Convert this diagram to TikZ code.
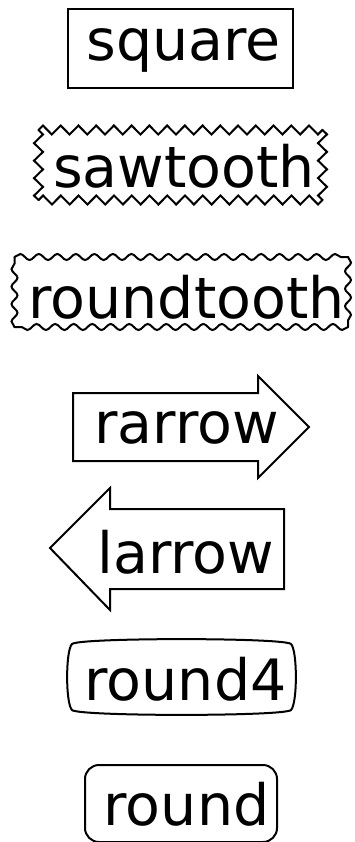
\documentclass[tikz,border=0pt]{standalone}
\usepackage{fontspec}
\newfontfamily\dejavu{DejaVu Sans}
\usetikzlibrary{decorations.pathmorphing}
\tikzset{
  boxline/.style={line width=2pt,black,line join=miter},
  sawside/.style={boxline,line cap=round,decorate,decoration={zigzag,segment length=#1,amplitude=4.5pt}},
  waveside/.style={boxline,line cap=round,decorate,decoration={snake,segment length=#1,amplitude=3pt}},
  lbl/.style={font={\dejavu\fontsize{57}{60}\selectfont},inner sep=0pt,anchor=base}
}
\begin{document}
\begin{tikzpicture}[x=1pt,y=-1pt]
  \useasboundingbox (0,0) rectangle (354,842);

  % square
  \draw[boxline] (68,9) rectangle (293,88);
  \node[lbl] (square) at (183.5,61) {square};

  % sawtooth
  \foreach \a/\b/\s in {{38.5,130}/{322.5,130}/17.74, {322.5,130}/{322.5,200}/17.49,
                        {322.5,200}/{38.5,200}/17.74, {38.5,200}/{38.5,130}/17.49}
    \draw[sawside=\s pt] (\a) -- (\b);
  \node[lbl] (sawtooth) at (184,188) {sawtooth};

  % roundtooth
  \foreach \a/\b/\s in {{14.5,257}/{348,257}/18.52, {348,257}/{348,327}/17.49,
                        {348,327}/{14.5,327}/18.52, {14.5,327}/{14.5,257}/17.49}
    \draw[waveside=\s pt] (\a) -- (\b);
  \node[lbl] (roundtooth) at (186.5,318) {roundtooth};

  % rarrow
  \draw[boxline] (73,393) -- (258,393) -- (258,376) -- (309,427) -- (258,478)
    -- (258,461) -- (73,461) -- cycle;
  \node[lbl] (rarrow) at (186.5,443) {rarrow};

  % larrow
  \draw[boxline] (50,548) -- (110,488) -- (110,509) -- (284,509) -- (284,589)
    -- (110,589) -- (110,610) -- cycle;
  \node[lbl] (larrow) at (186,573) {larrow};

  % round4
  \draw[boxline] (72,644) .. controls (78.5,637.5) and (284.5,637.5) .. (291,644)
    .. controls (297.5,650.5) and (297.5,703.5) .. (291,710)
    .. controls (284.5,716.5) and (78.5,716.5) .. (72,710)
    .. controls (65.5,703.5) and (65.5,650.5) .. (72,644) -- cycle;
  \node[lbl] (round4) at (185.5,700) {round4};

  % round
  \draw[boxline,rounded corners=14pt] (85,765) rectangle (277,842);
  \node[lbl] (round) at (186.5,825) {round};
\end{tikzpicture}
\end{document}
